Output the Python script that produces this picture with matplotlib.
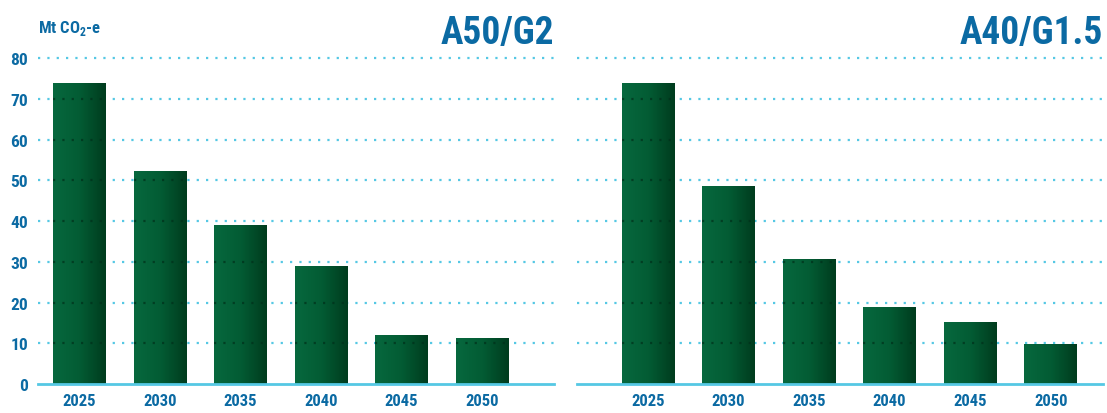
import numpy as np
import matplotlib
matplotlib.use("Agg")
import matplotlib.pyplot as plt
from matplotlib.colors import LinearSegmentedColormap

# data
years = ["2025", "2030", "2035", "2040", "2045", "2050"]
a50_g2 = [73.9, 52.3, 39.0, 29.0, 12.0, 11.3]
a40_g15 = [73.9, 48.5, 30.7, 18.9, 15.2, 9.8]
yticks = [0, 10, 20, 30, 40, 50, 60, 70, 80]

blue = "#0b6aa3"
cyan = "#55c8e4"
font = ["Roboto Condensed", "Archivo Narrow", "DejaVu Sans"]
plt.rcParams["font.family"] = font
plt.rcParams["font.stretch"] = "condensed"
plt.rcParams["mathtext.fontset"] = "custom"
plt.rcParams["mathtext.rm"] = "Roboto Condensed:bold"
plt.rcParams["mathtext.bf"] = "Roboto Condensed:bold"

green = LinearSegmentedColormap.from_list("g", ["#07683e", "#035c34", "#003c1e"])
grad = np.linspace(0, 1, 64).reshape(1, -1)

fig = plt.figure(figsize=(11.07, 4.14), dpi=100)


def panel(rect, values, xlim, title, title_x, show_y):
    ax = fig.add_axes(rect)
    x = np.arange(len(years))
    bars = ax.bar(x, values, width=0.65, color="none", zorder=2)
    for b in bars:
        x0, y0 = b.get_x(), b.get_y()
        w, h = b.get_width(), b.get_height()
        im = ax.imshow(grad, cmap=green, aspect="auto", extent=[x0, x0 + w, y0, y0 + h],
                       zorder=2, interpolation="bicubic")
        im.set_clip_path(b)
        lc = ax.hlines(yticks[1:], x0, x0 + w, colors="#00301a", linestyles=(0, (1, 3.2)),
                       linewidth=1.6, zorder=3, alpha=0.7)
        lc.set_clip_path(b)
    ax.hlines(yticks[1:], xlim[0], xlim[1], colors=cyan, linestyles=(0, (1, 3.2)),
              linewidth=1.6, zorder=1)
    ax.set_xlim(xlim)
    ax.set_ylim(0, 82)
    for s in ["top", "right", "left"]:
        ax.spines[s].set_visible(False)
    ax.spines["bottom"].set_color(cyan)
    ax.spines["bottom"].set_linewidth(2)
    ax.spines["bottom"].set_zorder(4)
    ax.set_xticks(x)
    ax.set_xticklabels(years, fontsize=12, fontweight="bold", color=blue)
    ax.tick_params(axis="x", length=0, pad=6.5)
    ax.set_yticks(yticks)
    if show_y:
        ax.set_yticklabels([str(v) for v in yticks], fontsize=12.5, fontweight="bold", color=blue)
        ax.tick_params(axis="y", length=0, pad=7)
    else:
        ax.tick_params(axis="y", length=0, labelleft=False)
    fig.text(title_x, 1 - 44 / 414, title, ha="right", va="baseline",
             fontsize=27, fontweight="bold", color=blue)
    return ax


panel([38 / 1107, 0.070, 516 / 1107, 0.807], a50_g2, (-0.51, 5.89), "A50/G2", 554 / 1107, True)
panel([577 / 1107, 0.070, 526 / 1107, 0.807], a40_g15, (-0.88, 5.65), "A40/G1.5", 1103 / 1107, False)

fig.text(38 / 1107, 1 - 33 / 414, r"Mt CO$_\mathbf{2}$-e", ha="left", va="baseline",
         fontsize=12, fontweight="bold", color=blue)

fig.savefig("out.png", dpi=100)
